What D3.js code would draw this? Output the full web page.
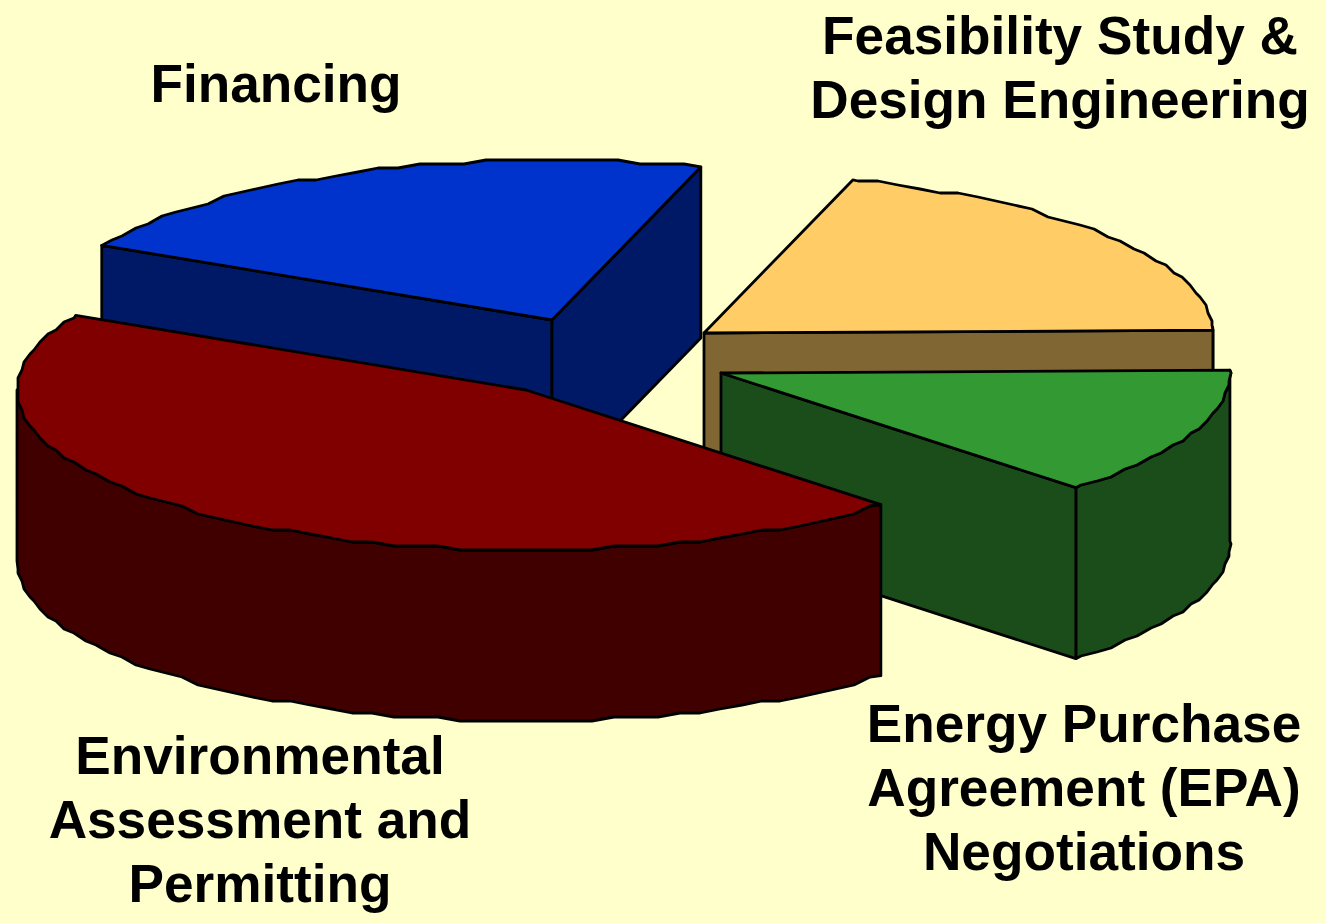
<!DOCTYPE html>
<html>
<head>
<meta charset="utf-8">
<script src="https://cdn.jsdelivr.net/npm/d3@7"></script>
<style>
  html, body { margin: 0; padding: 0; background: #ffffcc; }
  svg { display: block; }
  text { font-family: "Liberation Sans", Arial, sans-serif; font-weight: bold; fill: #000; }
</style>
</head>
<body>
<svg id="chart" width="1326" height="923"></svg>
<script>
// shares, clockwise from the top of the yellow slice
var categories = ["Feasibility", "EPA", "Environmental", "Financing"];
var shares = [20, 13, 45, 22];
var topColours = ["#ffcc66", "#339933", "#800000", "#0033cc"];
var sideColours = ["#806633", "#1a4d1a", "#400000", "#001966"];

var labelLines = [
  ["Feasibility Study &", "Design Engineering"],
  ["Energy Purchase", "Agreement (EPA)", "Negotiations"],
  ["Environmental", "Assessment and", "Permitting"],
  ["Financing"]
];
var labelX = [1060, 1084, 260, 276];
var labelY = [35, 723, 755, 83];

// how far each slice is pulled out of the pie
var explodeX = [704, 721, 526, 552];
var explodeY = [333, 373, 390, 320];

var rx = 509, ry = 160, depth = 171, jagX = 2, jagY = 4;

// unit circle -> flattened ellipse
var px = d3.scaleLinear().domain([-1, 1]).range([-rx, rx]);
var py = d3.scaleLinear().domain([-1, 1]).range([-ry, ry]);

var svg = d3.select("#chart");
var line = d3.line();

var arcs = d3.pie().sort(null).startAngle(17 * Math.PI / 180).endAngle((17 + 360) * Math.PI / 180)(shares);

function rimPoint(a) {
  return [px(Math.sin(a)), py(-Math.cos(a))];
}

// the original outline is a rough polygon, so snap the rim to a coarse grid.
// samples sit on a fixed angle grid so the top face and the wall share the same outline
function rim(a0, a1) {
  var step = 2.5 * Math.PI / 180;
  var pts = [rimPoint(a0)];
  var k = Math.floor(a0 / step) + 1;
  while (k * step < a1) {
    var p = rimPoint(k * step);
    pts.push([Math.round(p[0] / jagX) * jagX, Math.round(p[1] / jagY) * jagY]);
    k++;
  }
  pts.push(rimPoint(a1));
  return pts;
}

function down(pts) {
  return pts.map(function(p) { return [p[0], p[1] + depth]; });
}

function wallVisible(edge, mid) {
  var yOnEdge = edge[1] / edge[0] * mid[0];
  return mid[1] < yOnEdge;
}

// back slices first so the later ones cover them
var drawOrder = [3, 0, 1, 2];

drawOrder.forEach(function(i) {
  var d = arcs[i];
  var g = svg.append("g")
    .attr("transform", "translate(" + explodeX[i] + "," + explodeY[i] + ")")
    .attr("stroke", "#000")
    .attr("stroke-width", 2.8)
    .attr("stroke-linejoin", "round");

  var mid = rimPoint((d.startAngle + d.endAngle) / 2);

  // outer wall, only the part below the horizontal axis faces us
  // (a couple of degrees of slack so a slice ending just above it still gets a corner)
  var slack = 2 * Math.PI / 180;
  var a0 = Math.max(d.startAngle, Math.PI / 2 - slack);
  var a1 = Math.min(d.endAngle, Math.PI * 1.5);
  if (a1 > a0) {
    var front = rim(a0, a1);
    g.append("path")
      .attr("d", line(front.concat(down(front).reverse())) + "Z")
      .attr("fill", sideColours[i]);
  }

  // the two straight walls
  [d.startAngle, d.endAngle].forEach(function(a) {
    var edge = rimPoint(a);
    if (wallVisible(edge, mid)) {
      var flat = [[0, 0], edge];
      g.append("path")
        .attr("d", line(flat.concat(down(flat).reverse())) + "Z")
        .attr("fill", sideColours[i]);
    }
  });

  // top face
  g.append("path")
    .attr("d", line([[0, 0]].concat(rim(d.startAngle, d.endAngle))) + "Z")
    .attr("fill", topColours[i]);
});

labelLines.forEach(function(lines, i) {
  var t = svg.append("text")
    .attr("text-anchor", "middle")
    .attr("font-size", 53.2);
  lines.forEach(function(s, j) {
    t.append("tspan")
      .attr("x", labelX[i])
      .attr("y", labelY[i] + j * 64)
      .attr("dy", "0.36em")
      .text(s);
  });
});
</script>
</body>
</html>
